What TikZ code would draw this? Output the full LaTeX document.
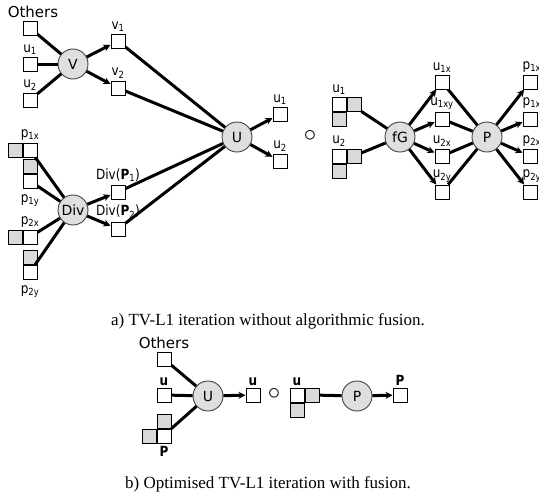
\documentclass[tikz,border=0pt]{standalone}
\usepackage{fontspec}
\setmainfont{Liberation Serif}
\newfontfamily\lblfont{DejaVu Sans}
\newfontfamily\narrowfont[FakeStretch=0.86]{DejaVu Sans}
\usetikzlibrary{arrows.meta,positioning}

\begin{document}
\begin{tikzpicture}[x=1pt,y=-1pt,
		cell/.style={draw, minimum size=14pt, inner sep=0pt, line width=1pt},
		shaded/.style={cell, fill=gray!30},
		op/.style={circle, draw=black!75, fill=gray!25, line width=0.9pt, minimum size=30pt, inner sep=0pt, font=\lblfont\fontsize{14}{14}\selectfont},
		tag/.style={font=\narrowfont\fontsize{14}{14}\selectfont, inner sep=0pt},
		wide tag/.style={font=\lblfont\fontsize{15}{15}\selectfont, inner sep=0pt},
		compose/.style={inner sep=0pt, font=\fontsize{24}{24}\selectfont},
		caption/.style={font=\fontsize{17}{18}\selectfont, inner sep=0pt},
		link/.style={line width=3pt},
		flow/.style={link, -{Stealth[length=7pt,width=7pt]}},
		]
	\useasboundingbox (0,0) rectangle (539,499);

	% --- a) left: V block ---
	\node[cell] (oth) at (30,28) {};
	\node[wide tag, above=3pt of oth, xshift=3pt] (othL) {Others};
	\node[cell] (ua) at (30,64) {};
	\node[tag, above=2pt of ua] (uaL) {u\textsubscript{1}};
	\node[cell] (ub) at (30,100) {};
	\node[tag, above=2pt of ub] (ubL) {u\textsubscript{2}};
	\node[op] (V) at (73,64) {V};
	\node[cell] (va) at (118,41) {};
	\node[tag, above=2pt of va] (vaL) {v\textsubscript{1}};
	\node[cell] (vb) at (118,88) {};
	\node[tag, above=2pt of vb] (vbL) {v\textsubscript{2}};

	% --- a) left: Div block ---
	\node[cell] (p1x) at (30,150) {};
	\node[shaded, left=0pt of p1x] (p1xg) {};
	\node[tag, above=2pt of p1x] (p1xL) {p\textsubscript{1x}};
	\node[cell] (p1y) at (30,181) {};
	\node[shaded, above=0pt of p1y] (p1yg) {};
	\node[tag, below=6pt of p1y] (p1yL) {p\textsubscript{1y}};
	\node[cell] (p2x) at (30,237) {};
	\node[shaded, left=0pt of p2x] (p2xg) {};
	\node[tag, above=2pt of p2x] (p2xL) {p\textsubscript{2x}};
	\node[cell] (p2y) at (30,272) {};
	\node[shaded, above=0pt of p2y] (p2yg) {};
	\node[tag, below=6pt of p2y] (p2yL) {p\textsubscript{2y}};
	\node[op] (Div) at (73,210) {Div};
	\node[cell] (dpa) at (118,192) {};
	\node[tag, above=3pt of dpa] (dpaL) {Div(\textbf{P}\textsubscript{1})};
	\node[cell] (dpb) at (118,229) {};
	\node[tag, above=3pt of dpb] (dpbL) {Div(\textbf{P}\textsubscript{2})};

	% --- a) middle: U ---
	\node[op] (U) at (237,137) {U};
	\node[cell] (uo1) at (280,114) {};
	\node[tag, above=2pt of uo1] (uo1L) {u\textsubscript{1}};
	\node[cell] (uo2) at (280,161) {};
	\node[tag, above=2pt of uo2] (uo2L) {u\textsubscript{2}};
	\node[compose] (comp) at (310,136) {$\circ$};

	% --- a) right: fG and P ---
	\node[cell] (u1w) at (339,104) {};
	\node[shaded, right=0pt of u1w] (u1r) {};
	\node[shaded, below=0pt of u1w] (u1b) {};
	\node[tag, above=2pt of u1w] (u1L) {u\textsubscript{1}};
	\node[cell] (u2w) at (339,156) {};
	\node[shaded, right=0pt of u2w] (u2r) {};
	\node[shaded, below=0pt of u2w] (u2b) {};
	\node[tag, above=2pt of u2w] (u2L) {u\textsubscript{2}};
	\node[op] (fG) at (400,137) {fG};
	\node[cell] (u1x) at (442,82) {};
	\node[tag, above=2pt of u1x] (u1xL) {u\textsubscript{1x}};
	\node[cell] (u1xy) at (442,119) {};
	\node[tag, above=2pt of u1xy] (u1xyL) {u\textsubscript{1xy}};
	\node[cell] (u2x) at (442,156) {};
	\node[tag, above=2pt of u2x] (u2xL) {u\textsubscript{2x}};
	\node[cell] (u2y) at (442,192) {};
	\node[tag, above=2pt of u2y] (u2yL) {u\textsubscript{2y}};
	\node[op] (P) at (487,137) {P};
	\node[cell] (pa) at (530,82) {};
	\node[tag, above=2pt of pa.north west, anchor=south west] (paL) {p\textsubscript{1x}};
	\node[cell] (pb) at (530,119) {};
	\node[tag, above=2pt of pb.north west, anchor=south west] (pbL) {p\textsubscript{1xy}};
	\node[cell] (pc) at (530,156) {};
	\node[tag, above=2pt of pc.north west, anchor=south west] (pcL) {p\textsubscript{2x}};
	\node[cell] (pd) at (530,192) {};
	\node[tag, above=2pt of pd.north west, anchor=south west] (pdL) {p\textsubscript{2y}};

	\draw[link] (oth) -- (V);
	\draw[link] (ua) -- (V);
	\draw[link] (ub) -- (V);
	\draw[flow] (V) -- (va);
	\draw[flow] (V) -- (vb);
	\draw[link] (va) -- (U);
	\draw[link] (vb) -- (U);
	\foreach \n in {p1x,p1y,p2x,p2y}
		\draw[link] (\n) -- (Div);
	\draw[flow] (Div) -- (dpa);
	\draw[flow] (Div) -- (dpb);
	\draw[link] (dpa) -- (U);
	\draw[link] (dpb) -- (U);
	\draw[flow] (U) -- (uo1);
	\draw[flow] (U) -- (uo2);
	\draw[link] (u1r.south east) -- (fG);
	\draw[link] (u2r) -- (fG);
	\foreach \n in {u1x,u1xy,u2x,u2y} {
		\draw[flow] (fG) -- (\n);
		\draw[link] (\n) -- (P);
	}
	\foreach \n in {pa,pb,pc,pd}
		\draw[flow] (P) -- (\n);

	\node[caption] (capA) at (268,321) {a) TV-L1 iteration without algorithmic fusion.};

	% --- b) fused ---
	\node[cell] (oth2) at (164,359) {};
	\node[wide tag, above=3pt of oth2] (oth2L) {Others};
	\node[cell] (uin) at (164,395) {};
	\node[tag, above=2pt of uin] (uinL) {\textbf{u}};
	\node[cell] (Pw) at (164,436) {};
	\node[shaded, above=0pt of Pw] (Pt) {};
	\node[shaded, left=0pt of Pw] (Pl) {};
	\node[tag, below=3pt of Pw] (PwL) {\textbf{P}};
	\node[op] (U2) at (208,396) {U};
	\node[cell] (uout) at (253,395) {};
	\node[tag, above=2pt of uout] (uoutL) {\textbf{u}};
	\node[compose] (comp2) at (274,394) {$\circ$};
	\node[cell] (uw) at (297,395) {};
	\node[shaded, right=0pt of uw] (ur) {};
	\node[shaded, below=0pt of uw] (ub2) {};
	\node[tag, above=2pt of uw] (uwL) {\textbf{u}};
	\node[op] (P2) at (357,396) {P};
	\node[cell] (Pout) at (400,395) {};
	\node[tag, above=2pt of Pout] (PoutL) {\textbf{P}};

	\draw[link] (oth2) -- (U2);
	\draw[link] (uin) -- (U2);
	\draw[link] (Pw.north east) -- (U2);
	\draw[flow] (U2) -- (uout);
	\draw[link] (ur) -- (P2);
	\draw[flow] (P2) -- (Pout);

	\node[caption] (capB) at (268,484) {b) Optimised TV-L1 iteration with fusion.};
\end{tikzpicture}
\end{document}
